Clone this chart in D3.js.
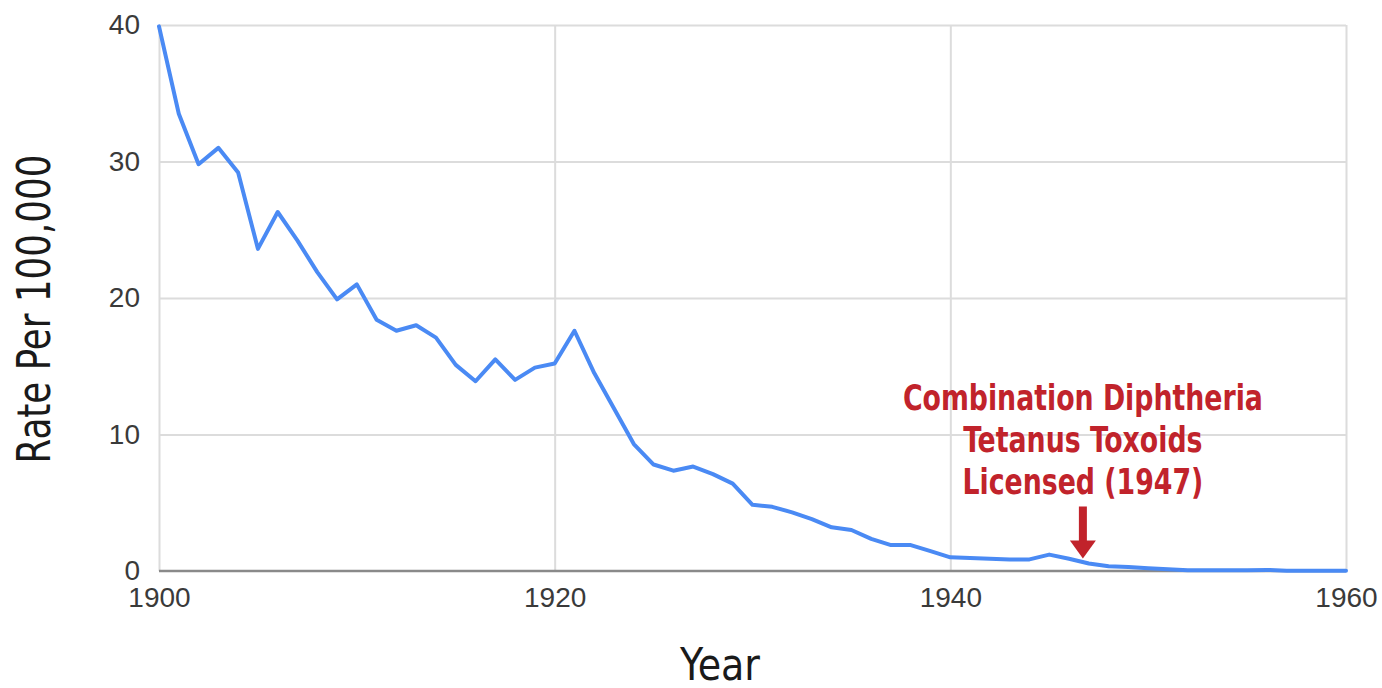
<!DOCTYPE html>
<html>
<head>
<meta charset="utf-8">
<script src="https://cdn.jsdelivr.net/npm/d3@7/dist/d3.min.js"></script>
<style>
  html, body { margin: 0; padding: 0; background: #fff; }
  svg { display: block; }
</style>
</head>
<body>
<svg id="chart"></svg>
<script>
// tetanus rate per 100,000, one value per year 1900..1960
const years = d3.range(1900, 1961);
const rates = [
  39.9, 33.5, 29.8, 31.0, 29.2, 23.6, 26.3, 24.2, 21.9, 19.9,
  21.0, 18.4, 17.6, 18.0, 17.1, 15.1, 13.9, 15.5, 14.0, 14.9,
  15.2, 17.6, 14.5, 11.9, 9.3, 7.8, 7.35, 7.65, 7.1, 6.4,
  4.85, 4.7, 4.3, 3.8, 3.2, 3.0, 2.35, 1.9, 1.9, 1.45,
  1.0, 0.95, 0.9, 0.85, 0.85, 1.2, 0.9, 0.55, 0.35, 0.3,
  0.2, 0.12, 0.05, 0.05, 0.05, 0.05, 0.08, 0.02, 0.02, 0.02,
  0.02
];
const xTicks = [1900, 1920, 1940, 1960];
const yTicks = [0, 10, 20, 30, 40];
const noteLines = ["Combination Diphtheria", "Tetanus Toxoids", "Licensed (1947)"];
const noteYear = 1946.7;

let W = 1382, H = 688;
let margin = {top: 25, right: 36, bottom: 117, left: 159};
let width = W - margin.left - margin.right;
let height = H - margin.top - margin.bottom;
let narrow = "Liberation Sans Narrow, DejaVu Sans Condensed, sans-serif";

let svg = d3.select("#chart").attr("width", W).attr("height", H);
let g = svg.append("g").attr("transform", "translate(" + margin.left + "," + margin.top + ")");

let x = d3.scaleLinear().domain([1900, 1960]).range([0, width]);
let y = d3.scaleLinear().domain([0, 40]).range([height, 0]);

// grid
g.append("g")
    .call(d3.axisLeft(y).tickValues(yTicks.filter(d => d > 0)).tickSize(-width).tickFormat(""))
    .call(a => a.select(".domain").remove())
    .selectAll("line").attr("stroke", "#dcdcdc").attr("stroke-width", 2);
g.append("g")
    .attr("transform", "translate(0," + height + ")")
    .call(d3.axisBottom(x).tickValues(xTicks).tickSize(height).tickFormat(""))
    .call(a => a.select(".domain").remove())
    .selectAll("line").attr("transform", "translate(0," + (-height) + ")")
    .attr("stroke", "#dcdcdc").attr("stroke-width", 2);

// axis labels
let yAxis = g.append("g")
    .call(d3.axisLeft(y).tickValues(yTicks).tickSize(0).tickPadding(19));
yAxis.select(".domain").remove();
yAxis.selectAll("text")
    .attr("font-family", "Liberation Sans, Arial, sans-serif")
    .attr("font-size", 28).attr("fill", "#3a3a3a");

let xAxis = g.append("g")
    .attr("transform", "translate(0," + height + ")")
    .call(d3.axisBottom(x).tickValues(xTicks).tickSize(0).tickPadding(16).tickFormat(d3.format("d")));
xAxis.select(".domain").remove();
xAxis.selectAll("text")
    .attr("font-family", "Liberation Sans, Arial, sans-serif")
    .attr("font-size", 28).attr("fill", "#3a3a3a");

// baseline
g.append("line")
    .attr("x1", 0).attr("x2", width)
    .attr("y1", y(0)).attr("y2", y(0))
    .attr("stroke", "#8a8a8a").attr("stroke-width", 2.5);

// the data line
let line = d3.line()
    .x((d, i) => x(years[i]))
    .y(d => y(d));
g.append("path")
    .datum(rates)
    .attr("fill", "none")
    .attr("stroke", "#4a8af4")
    .attr("stroke-width", 4)
    .attr("stroke-linejoin", "round")
    .attr("stroke-linecap", "round")
    .attr("d", line);

// annotation
let red = "#c1232b";
let nx = x(noteYear);
let note = g.append("text")
    .attr("transform", "translate(" + nx + ",0) scale(0.85,1)")
    .attr("text-anchor", "middle")
    .attr("font-family", narrow)
    .attr("font-weight", "bold")
    .attr("font-size", 35)
    .attr("fill", red);
noteLines.forEach((t, i) => {
    note.append("tspan").attr("x", 0).attr("y", 385 + i * 42).text(t);
});
let tipY = y(0.55) - 5;
g.append("rect")
    .attr("x", nx - 4).attr("y", tipY - 52)
    .attr("width", 8).attr("height", 36)
    .attr("fill", red);
g.append("path")
    .attr("d", d3.line()([[nx - 13, tipY - 18], [nx + 13, tipY - 18], [nx, tipY]]) + "Z")
    .attr("fill", red);

// axis titles
svg.append("text")
    .attr("transform", "translate(50,309) rotate(-90) scale(0.845,1)")
    .attr("text-anchor", "middle")
    .attr("font-family", narrow)
    .attr("font-size", 47)
    .attr("fill", "#1a1a1a")
    .text("Rate Per 100,000");
svg.append("text")
    .attr("transform", "translate(720,680) scale(0.94,1)")
    .attr("text-anchor", "middle")
    .attr("font-family", narrow)
    .attr("font-size", 45)
    .attr("fill", "#1a1a1a")
    .text("Year");
</script>
</body>
</html>
